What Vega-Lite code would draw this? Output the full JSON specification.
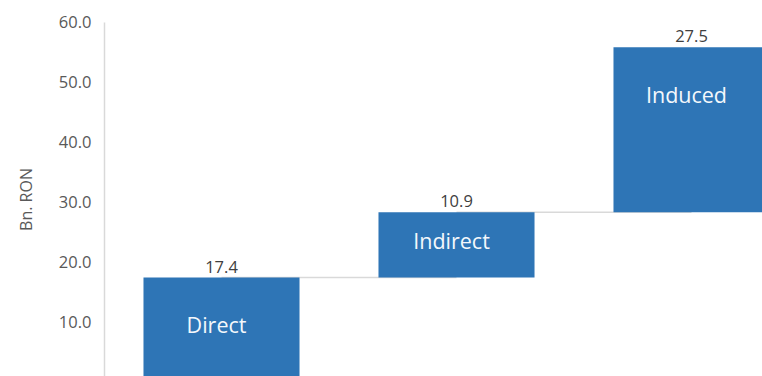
{
  "$schema": "https://vega.github.io/schema/vega-lite/v6.json",
  "width": 658,
  "height": 354,
  "autosize": {"type": "none"},
  "padding": {"left": 104, "top": 22, "right": 0, "bottom": 0},
  "background": "white",
  "config": {"view": {"stroke": null}, "font": "Open Sans"},
  "data": {"values": [
    {"cat": "Direct", "start": 0, "end": 17.4, "value": 17.4, "next": "Indirect", "labelAt": 9.2},
    {"cat": "Indirect", "start": 17.4, "end": 28.3, "value": 10.9, "next": "Induced", "labelAt": 23.2},
    {"cat": "Induced", "start": 28.3, "end": 55.8, "value": 27.5, "next": null, "labelAt": 47.5}
  ]},
  "encoding": {
    "x": {"field": "cat", "type": "nominal", "sort": null,
      "scale": {"domain": ["Direct", "Indirect", "Induced"], "range": [0, 705], "paddingInner": 0.336, "paddingOuter": 0.168},
      "axis": null}
  },
  "layer": [
    {
      "transform": [{"filter": "datum.next != null"}],
      "mark": {"type": "rule", "color": "#d9d9d9", "strokeWidth": 1.5, "clip": true},
      "encoding": {
        "x2": {"field": "next"},
        "y": {"field": "end", "type": "quantitative"}
      }
    },
    {
      "mark": {"type": "bar", "color": "#2E75B6", "clip": true},
      "encoding": {
        "y": {"field": "start", "type": "quantitative",
          "scale": {"domain": [1, 60], "nice": false, "zero": false},
          "axis": {"values": [10, 20, 30, 40, 50, 60], "format": ".1f", "grid": false, "ticks": false,
            "domainColor": "#d9d9d9", "domainWidth": 1.5, "labelColor": "#595959", "labelFontSize": 16.5,
            "labelPadding": 13, "title": "Bn. RON", "titleColor": "#595959", "titleFontSize": 16,
            "titleFontWeight": "normal", "titlePadding": 24}},
        "y2": {"field": "end"}
      }
    },
    {
      "mark": {"type": "text", "baseline": "alphabetic", "dy": -5, "fontSize": 16.5, "color": "#404040"},
      "encoding": {
        "y": {"field": "end", "type": "quantitative"},
        "text": {"field": "value", "type": "quantitative", "format": ".1f"}
      }
    },
    {
      "mark": {"type": "text", "baseline": "middle", "dx": -5, "fontSize": 21.5, "color": "#f4f8fc"},
      "encoding": {
        "y": {"field": "labelAt", "type": "quantitative"},
        "text": {"field": "cat", "type": "nominal"}
      }
    }
  ]
}
